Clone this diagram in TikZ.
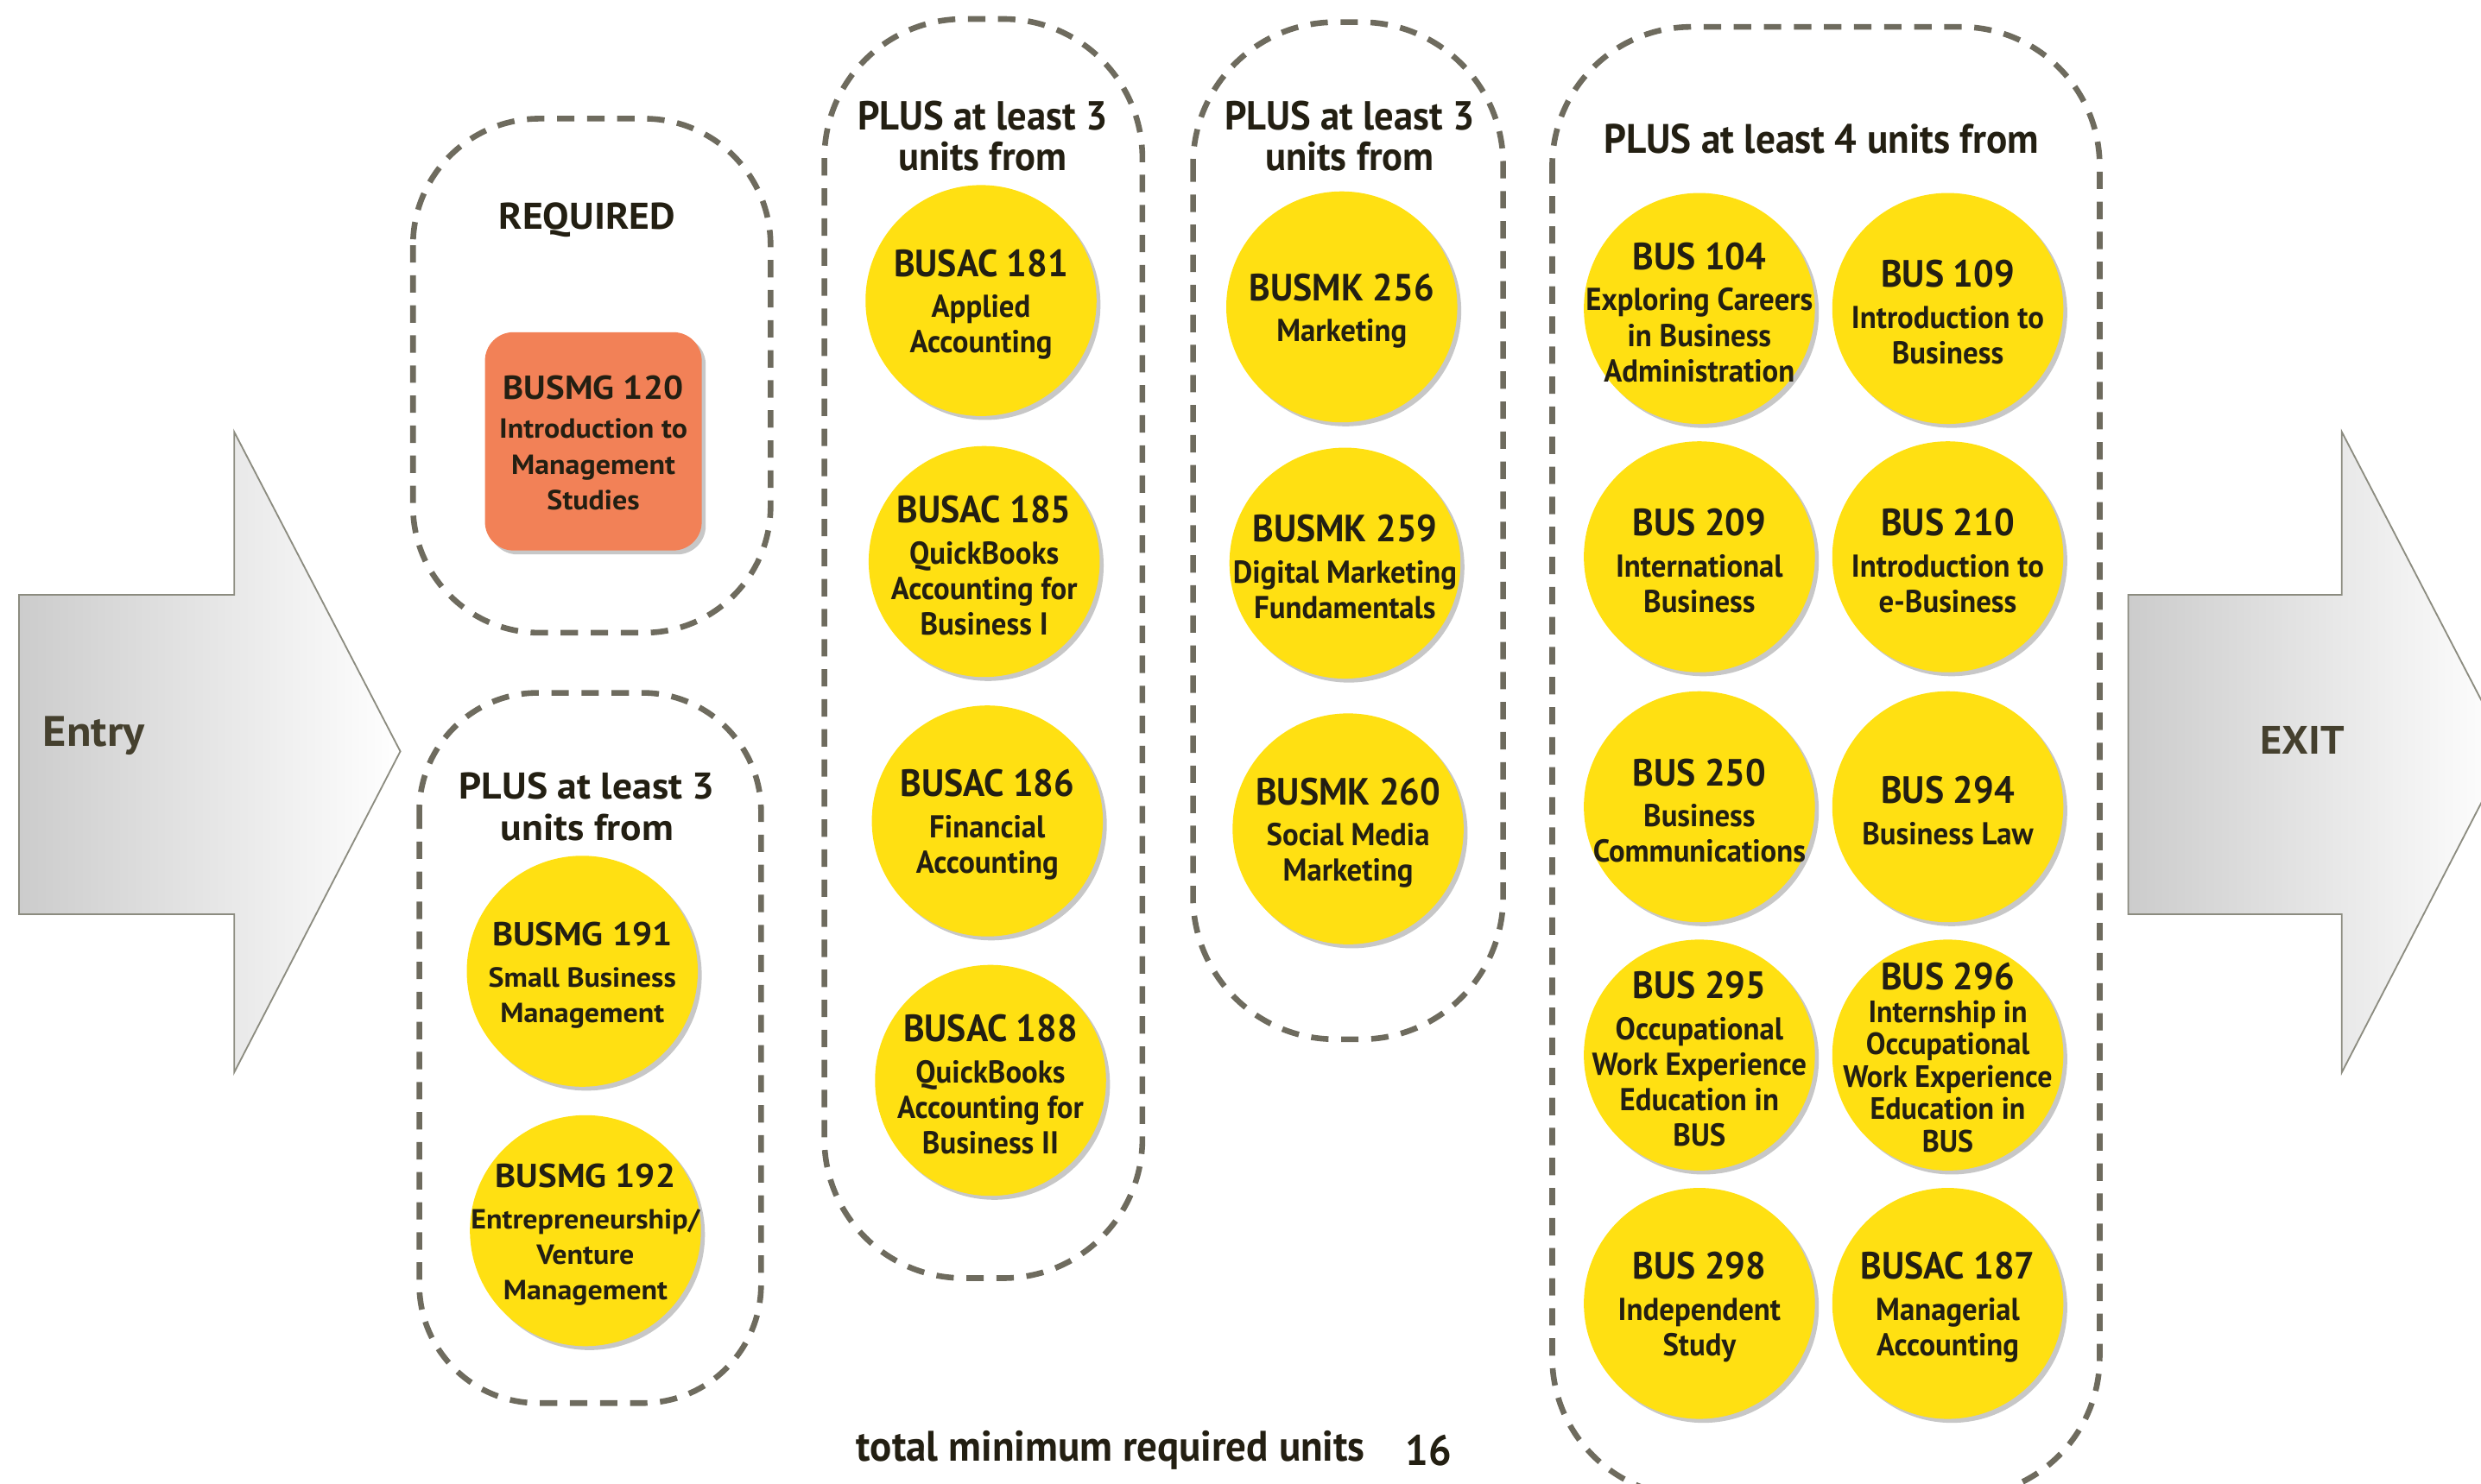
\documentclass[tikz,border=0pt]{standalone}
\usepackage{fontspec}
\setmainfont{PT Sans}
\newfontfamily\condf{PT Sans}[FakeStretch=0.95]
\newfontfamily\widef{PT Sans}[FakeStretch=1.06]
\usetikzlibrary{shadows}
\definecolor{ylw}{RGB}{255,224,18}
\definecolor{org}{RGB}{242,129,87}
\definecolor{dashc}{RGB}{110,107,94}
\definecolor{ink}{RGB}{35,31,18}
\definecolor{arrtxt}{RGB}{69,64,46}
\definecolor{arrline}{RGB}{140,140,128}
\newcommand\course[5][ctext]{%
  \node[circ] (#2) at (#3) {};
  \node[#1] (#2-t) at ([yshift=-2.5pt]#2.center) {{\ttl #4}\\[3.5pt] #5};}
\tikzset{
  grp/.style={draw=dashc, line width=3.6pt, dash pattern=on 11pt off 8pt},
  circ/.style={circle, fill=ylw, minimum size=146pt, inner sep=0pt,
    drop shadow={shadow xshift=2.5pt, shadow yshift=-2.5pt, opacity=0.22, fill=black}},
  ctext/.style={align=center, text=ink, inner sep=0pt,
    font=\condf\bfseries\fontsize{20}{22.5}\selectfont\def\ttl{\fontsize{24}{24}\selectfont}},
  wtext/.style={align=center, text=ink, inner sep=0pt,
    font=\widef\bfseries\fontsize{17.5}{22.5}\selectfont\def\ttl{\fontsize{21}{22}\selectfont}},
  head/.style={align=center, text=ink, inner sep=0pt,
    font=\condf\bfseries\fontsize{25.6}{26}\selectfont},
  whead/.style={align=center, text=ink, inner sep=0pt,
    font=\widef\bfseries\fontsize{23.5}{26}\selectfont},
  bigarrow/.style={draw=arrline, line width=1pt, left color=black!20, right color=white},
  arrlabel/.style={text=arrtxt, inner sep=0pt, font=\widef\bfseries\fontsize{25}{26}\selectfont},
}
\begin{document}
\begin{tikzpicture}[x=1pt, y=-1pt]
\useasboundingbox (0,0) rectangle (1568,938);
\begin{scope}
\clip (0,0) rectangle (1568,938);
% entry / exit arrows
\draw[bigarrow] (12,376) -- (148,376) -- (148,273) -- (253,475) -- (148,678) -- (148,578) -- (12,578) -- cycle;
\draw[bigarrow] (1345,376) -- (1480,376) -- (1480,273) -- (1585,475) -- (1480,678) -- (1480,578) -- (1345,578) -- cycle;
% group boxes
\draw[grp, rounded corners=80pt] (261,75) rectangle (487,400);
\draw[grp, rounded corners=75pt] (265,438) rectangle (481,887);
\draw[grp, rounded corners=88pt] (521,12) rectangle (722,808);
\draw[grp, rounded corners=90pt] (754,14) rectangle (950,657);
\draw[grp, rounded corners=88pt] (981,17) rectangle (1327,946);
\end{scope}
\node[arrlabel, anchor=west, font=\widef\bfseries\fontsize{27}{28}\selectfont] (entry) at (27,465) {Entry};
\node[arrlabel] (exit) at (1455,468) {EXIT};
% headings
\node[whead] (h1) at (371,139) {REQUIRED};
\node[whead] (h2) at (371,510) {PLUS at least 3\\units from};
\node[head] (h3) at (621,86) {PLUS at least 3\\units from};
\node[head] (h4) at (853,86) {PLUS at least 3\\units from};
\node[head, font=\condf\bfseries\fontsize{26}{26}\selectfont] (h5) at (1151,88) {PLUS at least 4 units from};
% required course
\node[fill=org, rounded corners=18pt, minimum width=137pt, minimum height=138pt,
  drop shadow={shadow xshift=2.5pt, shadow yshift=-2.5pt, opacity=0.22, fill=black}] (r120) at (375,279) {};
\node[wtext] (r120-t) at ([yshift=-1pt]r120.center) {{\ttl BUSMG 120}\\[2pt] Introduction to\\ Management\\ Studies};
% box 2
\course[wtext]{m191}{368,614}{BUSMG 191}{Small Business\\ Management}
\course[wtext]{m192}{370,778}{BUSMG 192}{Entrepreneurship/\\ Venture\\ Management}
% box 3
\course{a181}{620,190}{BUSAC 181}{Applied\\ Accounting}
\course{a185}{622,355}{BUSAC 185}{QuickBooks\\ Accounting for\\ Business I}
\course{a186}{624,519}{BUSAC 186}{Financial\\ Accounting}
\course{a188}{626,683}{BUSAC 188}{QuickBooks\\ Accounting for\\ Business II}
% box 4
\course{k256}{848,194}{BUSMK 256}{Marketing}
\course{k259}{850,356}{BUSMK 259}{Digital Marketing\\ Fundamentals}
\course{k260}{852,524}{BUSMK 260}{Social Media\\ Marketing}
% box 5
\course{b104}{1074,195}{BUS 104}{Exploring Careers\\ in Business\\ Administration}
\course{b109}{1231,195}{BUS 109}{Introduction to\\ Business}
\course{b209}{1074,352}{BUS 209}{International\\ Business}
\course{b210}{1231,352}{BUS 210}{Introduction to\\ e-Business}
\course{b250}{1074,510}{BUS 250}{Business\\ Communications}
\course{b294}{1231,510}{BUS 294}{Business Law}
\course{b295}{1074,667}{BUS 295}{Occupational\\ Work Experience\\ Education in\\ BUS}
\node[circ] (b296) at (1231,667) {};
\node[ctext, font=\condf\bfseries\fontsize{19.5}{20.5}\selectfont] (b296-t) at ([yshift=-1.5pt]b296.center) {{\fontsize{24}{24}\selectfont BUS 296}\\[0pt] Internship in\\ Occupational\\ Work Experience\\ Education in\\ BUS};
\course{b298}{1074,824}{BUS 298}{Independent\\ Study}
\course{c187}{1231,824}{BUSAC 187}{Managerial\\ Accounting}
% total
\node[head, font=\condf\bfseries\fontsize{27}{28}\selectfont] (total) at (702,917) {total minimum required units};
\node[head, font=\condf\bfseries\fontsize{27}{28}\selectfont] (sixteen) at (903,917) {16};
\end{tikzpicture}
\end{document}
